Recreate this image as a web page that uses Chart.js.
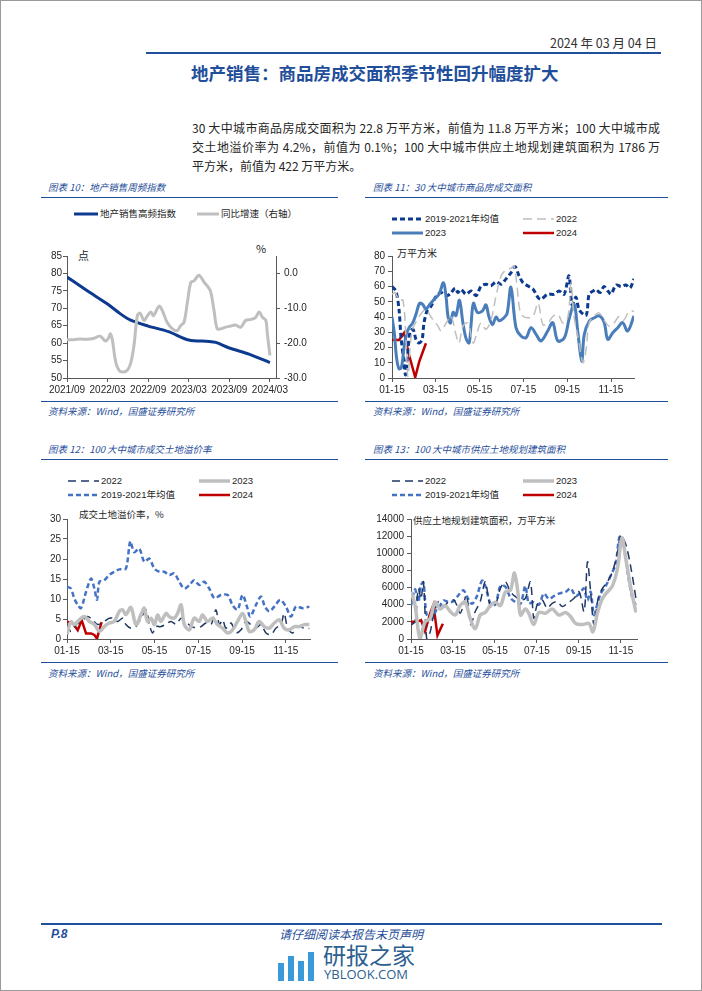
<!DOCTYPE html>
<html>
<head>
<meta charset="utf-8">
<script src="https://cdn.jsdelivr.net/npm/chart.js@4.4.1/dist/chart.umd.min.js"></script>
<style>
  body { margin: 0; background: #fff; }
  #page { position: relative; width: 702px; height: 991px; box-sizing: border-box; border: 1px solid #9a9a9a; overflow: hidden; font-family: "Noto Sans CJK SC", sans-serif; }
  .abs { position: absolute; white-space: nowrap; }
  canvas { position: absolute; }
  .rule { position: absolute; background: #1F4E9A; }
  .ctitle { position: absolute; font-size: 9.5px; font-style: italic; color: #1F4E9A; line-height: 14px; }
  .src { position: absolute; font-size: 9.5px; font-style: italic; color: #1F4E9A; line-height: 14px; }
  .leg { position: absolute; font-size: 9.5px; color: #262626; line-height: 14px; font-family: "Liberation Sans", "Noto Sans CJK SC", sans-serif; }
  .unit { position: absolute; font-size: 9.5px; color: #262626; line-height: 14px; }
  .para { position: absolute; left: 191px; width: 468px; font-size: 12px; color: #262626; line-height: 18px; }
  .para div { text-align: justify; text-align-last: justify; }
  .para div.last { text-align-last: left; }
</style>
</head>
<body>
<div id="page">
  <div class="abs" style="right:44px;top:34px;font-size:12.5px;color:#333;line-height:16px;">2024 年 03 月 04 日</div>
  <div class="rule" style="left:145px;top:51px;width:515px;height:2px;"></div>
  <div class="abs" style="left:190px;top:61px;font-size:17.5px;font-weight:bold;color:#1F4E9A;line-height:22px;">地产销售：商品房成交面积季节性回升幅度扩大</div>

  <div class="para" style="top:118px;">
    <div>30 大中城市商品房成交面积为 22.8 万平方米，前值为 11.8 万平方米；100 大中城市成</div>
    <div style="margin-top:1px;">交土地溢价率为 4.2%，前值为 0.1%；100 大中城市供应土地规划建筑面积为 1786 万</div>
    <div class="last" style="margin-top:1px;">平方米，前值为 422 万平方米。</div>
  </div>

  <div class="ctitle" style="left:47px;top:179px;">图表 10：地产销售周频指数</div>
  <div class="rule" style="left:40px;top:196px;width:297px;height:1px;"></div>
  <div class="ctitle" style="left:372px;top:179px;">图表 11：30 大中城市商品房成交面积</div>
  <div class="rule" style="left:364px;top:196px;width:303px;height:1px;"></div>

  <div class="unit" style="left:77px;top:247px;font-size:11px;">点</div>
  <div class="unit" style="left:255px;top:240px;font-size:11px;">%</div>
  <div class="unit" style="left:396px;top:245px;font-size:10px;">万平方米</div>

  <canvas id="c10" width="270" height="155" style="left:40px;top:245px;"></canvas>
  <canvas id="c11" width="280" height="155" style="left:363px;top:245px;"></canvas>

  <div class="rule" style="left:40px;top:400px;width:297px;height:1px;"></div>
  <div class="rule" style="left:364px;top:400px;width:303px;height:1px;"></div>
  <div class="src" style="left:47px;top:403px;">资料来源：Wind，国盛证券研究所</div>
  <div class="src" style="left:372px;top:403px;">资料来源：Wind，国盛证券研究所</div>

  <div class="ctitle" style="left:47px;top:441px;">图表 12：100 大中城市成交土地溢价率</div>
  <div class="rule" style="left:40px;top:458px;width:297px;height:1px;"></div>
  <div class="ctitle" style="left:372px;top:441px;">图表 13：100 大中城市供应土地规划建筑面积</div>
  <div class="rule" style="left:364px;top:458px;width:303px;height:1px;"></div>

  <div class="unit" style="left:78px;top:506px;">成交土地溢价率，%</div>
  <div class="unit" style="left:412px;top:512px;">供应土地规划建筑面积，万平方米</div>

  <canvas id="c12" width="279" height="153" style="left:40px;top:508px;"></canvas>
  <canvas id="c13" width="283" height="153" style="left:363px;top:508px;"></canvas>

  <div class="rule" style="left:40px;top:661px;width:297px;height:1px;"></div>
  <div class="rule" style="left:364px;top:661px;width:303px;height:1px;"></div>
  <div class="src" style="left:47px;top:665px;">资料来源：Wind，国盛证券研究所</div>
  <div class="src" style="left:372px;top:665px;">资料来源：Wind，国盛证券研究所</div>

  <div class="rule" style="left:40px;top:922px;width:621px;height:2px;"></div>
  <div class="abs" style="left:50px;top:926px;font-size:12px;font-weight:bold;font-style:italic;color:#1F4E9A;font-family:'Liberation Sans',sans-serif;line-height:14px;">P.8</div>
  <div class="abs" style="left:278px;top:925px;font-size:12px;font-style:italic;color:#1F4E9A;line-height:15px;">请仔细阅读本报告末页声明</div>

  <div style="position:absolute;left:277px;top:962px;width:6px;height:18px;background:#3a9ad9;"></div>
  <div style="position:absolute;left:287px;top:955px;width:6px;height:25px;background:#3a9ad9;"></div>
  <div style="position:absolute;left:297px;top:960px;width:6px;height:20px;background:#3a9ad9;"></div>
  <div style="position:absolute;left:307px;top:951px;width:6px;height:29px;background:#3a9ad9;"></div>
  <div class="abs" style="left:322px;top:940px;font-size:23px;color:#2d5f8f;line-height:26px;">研报之家</div>
  <div class="abs" style="left:323px;top:966px;font-size:13px;color:#2d5f8f;line-height:15px;font-family:'Open Sans',sans-serif;">YBLOOK.COM</div>
</div>

<script>
// ---- 图表10：地产销售周频指数 (x = 自2021/09起的月数)
const months10 = ['2021/09', '2022/03', '2022/09', '2023/03', '2023/09', '2024/03'];
const salesIndex = [[0,79],[3,75],[6,71.2],[7.9,68.4],[9.4,66.6],[12,64.9],[15,63.3],[18,60.9],[21,60.5],[22,60.2],[24,58.6],[27,56.8],[30,54.4]];
const salesYoY = [[0,-19],[1,-19],[2,-18.8],[3,-18.9],[4,-18.6],[4.9,-18],[5.7,-19.4],[6.2,-18.3],[6.4,-17.3],[6.7,-19],[7.2,-25.4],[7.7,-27.8],[8.2,-28.3],[8.9,-27.8],[9.4,-25.9],[9.9,-20.7],[10.4,-12.1],[10.8,-11.4],[11.4,-13.5],[11.9,-12.1],[12.4,-11.1],[12.8,-12.1],[13.6,-9.4],[14.1,-10.7],[14.8,-14],[15.6,-15.9],[16.3,-16.4],[16.8,-15],[17.3,-14],[17.8,-8.3],[18.3,-2.6],[18.8,-2.1],[19.5,-0.5],[20.3,-2.6],[20.7,-3.5],[21.2,-5],[21.7,-10.2],[22.2,-15.9],[22.7,-15.9],[23.5,-15.4],[24.2,-15.1],[24.9,-14.8],[25.7,-15.4],[26.4,-13.5],[27.2,-13.2],[27.9,-12.6],[28.4,-11.1],[28.9,-12.6],[29.4,-13.5],[29.6,-16.9],[30,-23.5]];

// ---- 图表11：30大中城市商品房成交面积 (x = 自01-15起的月数)
const days = ['01-15', '03-15', '05-15', '07-15', '09-15', '11-15'];
const area1921 = [[0,60],[0.18,57],[0.32,45],[0.41,27],[0.55,10],[0.62,2],[0.73,18],[0.82,30],[0.96,32],[1.10,25],[1.23,23],[1.37,25],[1.46,36],[1.60,44],[1.78,47],[2.01,53.5],[2.24,56],[2.47,54],[2.65,55],[2.88,59],[3.01,56],[3.15,58],[3.38,55],[3.61,57],[3.84,54],[4.06,60],[4.29,61.5],[4.52,60.5],[4.75,63],[4.98,61.5],[5.21,65],[5.43,69],[5.62,73],[5.80,67],[5.98,62.5],[6.21,60.3],[6.44,58.2],[6.67,52.7],[6.80,51.6],[7.11,54.9],[7.40,54.9],[7.63,57],[7.86,54.9],[8.08,67],[8.22,48],[8.40,53],[8.54,45],[8.86,41],[9.00,55],[9.18,57],[9.32,58],[9.50,56],[9.68,60],[9.86,57],[10.0,55],[10.23,61],[10.46,60],[10.68,61],[10.87,59],[11.05,65]];
const area2022 = [[0,55],[0.14,56],[0.32,51],[0.50,51],[0.64,25],[0.73,1],[0.91,30],[1.23,40],[1.55,45],[1.78,40],[2.10,34],[2.24,31],[2.47,36],[2.69,40.5],[2.92,28.5],[3.06,23],[3.24,34],[3.47,36],[3.70,23],[3.88,29.6],[4.06,36],[4.29,32],[4.52,38],[4.75,53.7],[4.98,66.8],[5.21,71],[5.43,72],[5.57,73.4],[5.71,60],[5.84,44],[5.98,40.5],[6.21,39.5],[6.44,40.5],[6.67,49],[6.89,35],[7.12,36],[7.35,40.5],[7.58,41.6],[7.81,36],[8.04,40.5],[8.17,62.5],[8.31,40.5],[8.54,23],[8.72,10],[8.86,18.6],[9.00,36],[9.22,40.5],[9.45,42.7],[9.68,38],[9.91,34],[10.14,36],[10.37,40.5],[10.59,38],[10.82,43.8],[11.05,43.8]];
const area2023 = [[0,40],[0.11,29],[0.21,13],[0.32,6],[0.43,7],[0.55,20],[0.66,29],[0.78,33],[0.94,36],[1.10,42],[1.26,49],[1.42,48],[1.55,45],[1.71,48],[1.92,51.5],[2.15,55],[2.35,62.5],[2.47,53],[2.56,40],[2.67,36],[2.79,43],[2.92,41],[3.08,51],[3.24,36],[3.38,26],[3.52,23],[3.61,35],[3.72,49],[3.90,43],[4.13,44],[4.29,48],[4.43,40],[4.59,35],[4.75,40],[4.89,37.5],[5.07,39],[5.25,42],[5.43,59.5],[5.66,33],[5.89,27.5],[6.12,26.4],[6.35,33],[6.58,28.6],[6.80,24.3],[7.11,30.8],[7.34,36.3],[7.57,24.3],[7.87,26.4],[8.10,39.5],[8.32,48.3],[8.48,30.8],[8.66,11.1],[8.78,28.6],[9.01,37.4],[9.24,39.5],[9.47,40.7],[9.69,36.3],[9.85,25.4],[10.08,29.7],[10.31,33],[10.53,36.3],[10.76,30.8],[11.05,40.7]];
const area2024 = [[0,25],[0.32,25],[0.55,29.5],[0.78,15],[1.06,0.5],[1.25,11],[1.55,22.8]];

// ---- 图表12：100大中城市成交土地溢价率 (%)
const prem1921 = [[0,13.1],[0.18,12.6],[0.33,10.2],[0.49,8.5],[0.64,7.7],[0.87,11.8],[1.10,15.1],[1.25,12.6],[1.37,9.8],[1.48,14.3],[1.70,14.7],[1.93,16],[2.16,16.8],[2.39,17.4],[2.69,17.6],[2.89,24.4],[3.07,21.7],[3.30,22.6],[3.53,19.3],[3.76,20.1],[3.99,17.6],[4.22,16.8],[4.44,16.8],[4.67,16],[4.90,16.4],[5.13,14.3],[5.36,12.6],[5.59,13.5],[5.81,14.7],[6.04,13.5],[6.27,14.3],[6.50,12.6],[6.73,10.2],[7.03,11],[7.34,11],[7.56,8.5],[7.79,7.3],[8.02,11],[8.22,8.1],[8.37,5.6],[8.63,8.5],[8.86,10.6],[9.04,8.1],[9.24,6.9],[9.47,8.1],[9.74,9.8],[10.0,8.1],[10.23,5.6],[10.46,8.1],[10.76,7.7],[11.07,8.1]];
const prem2022 = [[0,3.6],[0.18,1.9],[0.41,3.6],[0.64,4.4],[0.94,5.6],[1.17,4.8],[1.40,3.6],[1.70,4.4],[1.93,5.2],[2.09,5.2],[2.31,4.4],[2.54,5.2],[2.69,3.6],[2.92,2.7],[3.15,3.1],[3.38,5.2],[3.61,7.3],[3.76,3.6],[3.91,1.5],[4.06,3.1],[4.29,3.1],[4.52,3.7],[4.75,4.4],[4.98,3.7],[5.21,5.2],[5.43,4.4],[5.66,3.1],[5.89,2.9],[6.12,3.1],[6.35,4],[6.58,3.6],[6.80,7.3],[6.96,3.6],[7.11,4.8],[7.26,2.7],[7.49,4],[7.72,1.5],[7.95,2.3],[8.17,4.4],[8.40,3.6],[8.63,2.7],[8.86,3.6],[9.09,1.5],[9.32,1.1],[9.54,2.7],[9.77,3.6],[9.92,6.4],[10.08,2.7],[10.30,1.5],[10.53,3.1],[10.84,2.7],[11.07,2.6]];
const prem2023 = [[0,1.2],[0.18,4.3],[0.33,3.6],[0.49,4.4],[0.79,5.6],[1.02,4.4],[1.25,3.6],[1.48,1.9],[1.70,3.1],[1.93,4],[2.16,4.4],[2.39,6.9],[2.54,7.3],[2.69,6.1],[2.92,7.9],[3.15,3.6],[3.38,6.1],[3.53,7.7],[3.68,4.4],[3.84,5.2],[3.99,3.6],[4.14,6],[4.29,4.4],[4.52,6.4],[4.67,5.6],[4.90,5.2],[5.05,6.4],[5.21,8.5],[5.36,3.6],[5.59,2.3],[5.81,5.2],[6.04,4.4],[6.19,6],[6.42,4.4],[6.65,5.2],[6.88,3.6],[7.11,2.7],[7.34,1.5],[7.56,2.3],[7.79,4.4],[8.02,6.4],[8.17,4.4],[8.33,1.9],[8.55,2.3],[8.78,4.4],[9.01,3.1],[9.24,2.7],[9.47,4],[9.70,4.8],[9.92,2.7],[10.15,2.3],[10.38,3.1],[10.61,3.1],[10.84,3.6],[11.07,3.6]];
const prem2024 = [[0,4.3],[0.26,4],[0.49,2.2],[0.67,4.7],[0.87,1.4],[1.10,1.4],[1.25,1],[1.37,0.1],[1.58,4.2]];

// ---- 图表13：100大中城市供应土地规划建筑面积 (万平方米)
const supply1921 = [[0,3900],[0.19,5800],[0.35,4300],[0.46,6200],[0.59,6600],[0.75,2800],[0.99,2400],[1.23,3500],[1.39,3900],[1.55,4500],[1.79,4300],[2.02,4400],[2.26,5100],[2.50,5700],[2.66,5000],[2.90,4100],[3.14,5000],[3.38,6800],[3.54,6200],[3.78,4200],[4.02,4000],[4.26,6200],[4.50,6100],[4.74,4800],[4.98,4300],[5.22,4100],[5.45,6200],[5.61,4200],[5.85,4300],[6.09,4000],[6.33,5300],[6.57,4700],[6.81,5000],[7.05,5300],[7.37,5500],[7.61,5900],[7.85,5000],[8.09,5500],[8.24,5900],[8.41,4500],[8.56,5500],[8.72,2800],[8.89,4200],[9.04,5300],[9.28,6200],[9.52,7400],[9.76,8800],[9.92,11800],[10.05,12000],[10.21,9700],[10.40,6600],[10.56,4700],[10.72,3900]];
const supply2022 = [[0,1660],[0.19,2000],[0.35,5900],[0.48,4700],[0.59,6670],[0.75,0],[0.91,770],[1.07,2700],[1.31,4360],[1.55,3780],[1.79,4360],[2.03,4550],[2.18,3970],[2.34,3010],[2.50,3970],[2.63,5130],[2.74,3780],[2.85,1660],[3.06,3200],[3.30,4360],[3.54,6670],[3.78,3780],[4.02,3970],[4.26,5900],[4.50,6670],[4.74,5515],[4.98,4940],[5.22,4550],[5.45,4744],[5.69,6670],[5.85,2430],[6.01,3970],[6.25,4550],[6.49,3590],[6.73,4170],[6.97,4360],[7.21,3780],[7.45,4170],[7.77,4744],[8.01,5515],[8.25,3200],[8.41,9000],[8.56,5515],[8.72,1660],[8.92,4744],[9.12,5900],[9.36,6670],[9.60,7830],[9.84,10100],[10.0,12070],[10.24,11000],[10.48,8300],[10.72,4744]];
const supply2023 = [[0,5500],[0.19,4000],[0.43,0],[0.67,2000],[0.91,2400],[1.15,4300],[1.39,3500],[1.63,3900],[1.87,3200],[2.11,2800],[2.34,3900],[2.58,4300],[2.82,2400],[3.06,1200],[3.30,2800],[3.54,3100],[3.78,3900],[4.02,4300],[4.26,3900],[4.50,5500],[4.74,5700],[4.93,7700],[5.09,5500],[5.22,2800],[5.45,3500],[5.61,3000],[5.85,1700],[6.09,3100],[6.41,3000],[6.73,3500],[7.05,2800],[7.37,3100],[7.61,2600],[7.85,1800],[8.17,1700],[8.48,1800],[8.67,850],[8.89,3100],[9.12,4700],[9.36,5500],[9.60,6200],[9.84,8200],[10.05,11800],[10.24,9300],[10.48,5900],[10.72,3100]];
const supply2024 = [[0,2000],[0.29,2000],[0.48,2200],[0.67,900],[0.91,3000],[1.07,4000],[1.26,422],[1.52,1786]];

const AXIS = '#595959';
const TXT = '#262626';
const TICK_FONT = { family: '"Liberation Sans", Arial, sans-serif', size: 10 };
const NAVY = '#0B3A8F';
const STEEL = '#4A7EBB';
const MID = '#4472C4';
const DARK = '#203864';
const GRAY = '#BFBFBF';
const RED = '#C00000';

function series(pts, color, width, dash, tension, axis) {
  return {
    data: pts.map(p => ({ x: p[0], y: p[1] })),
    borderColor: color, borderWidth: width, borderDash: dash || [],
    pointRadius: 0, fill: false, tension: tension,
    yAxisID: axis || 'y', borderCapStyle: 'butt'
  };
}

function xAxis(max, vals, labels) {
  return {
    type: 'linear', min: 0, max: max,
    afterBuildTicks: s => { s.ticks = vals.map(v => ({ value: v })); },
    afterFit: s => { s.height = 23; },
    grid: { drawOnChartArea: false, tickLength: 4, color: AXIS },
    border: { color: AXIS },
    ticks: { autoSkip: false, maxRotation: 0, padding: 2, color: TXT, font: TICK_FONT,
      callback: (v, i) => labels[i] }
  };
}

function yAxis(min, max, vals, width, pad, pos, fmt) {
  return {
    type: 'linear', position: pos || 'left', min: min, max: max,
    afterBuildTicks: s => { s.ticks = vals.map(v => ({ value: v })); },
    afterFit: s => { s.width = width; },
    grid: { drawOnChartArea: false, tickLength: 4, color: AXIS },
    border: { color: AXIS },
    ticks: { padding: pad, color: TXT, font: TICK_FONT, crossAlign: 'near',
      callback: v => fmt ? fmt(v) : String(v) }
  };
}

function makeChart(id, datasets, scales, padRight) {
  new Chart(document.getElementById(id), {
    type: 'line',
    data: { datasets: datasets },
    options: {
      responsive: false, animation: false, devicePixelRatio: 1,
      layout: { padding: { top: 10, right: padRight, left: 0, bottom: 0 } },
      plugins: { legend: { display: false }, tooltip: { enabled: false } },
      scales: scales
    }
  });
}

function legendItem(x, y, len, color, width, dash, text) {
  const page = document.getElementById('page');
  const ns = 'http://www.w3.org/2000/svg';
  const svg = document.createElementNS(ns, 'svg');
  svg.setAttribute('width', len); svg.setAttribute('height', 8);
  svg.style.position = 'absolute'; svg.style.left = x + 'px'; svg.style.top = (y - 4) + 'px';
  const ln = document.createElementNS(ns, 'line');
  ln.setAttribute('x1', 0); ln.setAttribute('y1', 4); ln.setAttribute('x2', len); ln.setAttribute('y2', 4);
  ln.setAttribute('stroke', color); ln.setAttribute('stroke-width', width);
  if (dash) ln.setAttribute('stroke-dasharray', dash.join(' '));
  svg.appendChild(ln);
  page.appendChild(svg);
  const t = document.createElement('div');
  t.className = 'leg'; t.textContent = text;
  t.style.left = (x + len + 2) + 'px'; t.style.top = (y - 7) + 'px';
  page.appendChild(t);
}

// legends
legendItem(73, 213, 24, NAVY, 3, null, '地产销售高频指数');
legendItem(196, 213, 22, GRAY, 3, null, '同比增速（右轴）');

legendItem(391, 218, 31, NAVY, 3, [5, 3], '2019-2021年均值');
legendItem(522, 218, 31, GRAY, 1.5, [9, 5], '2022');
legendItem(391, 232, 31, STEEL, 3, null, '2023');
legendItem(522, 232, 31, RED, 2.5, null, '2024');

legendItem(67, 480, 31, DARK, 1.5, [8, 5], '2022');
legendItem(198, 480, 31, GRAY, 3.5, null, '2023');
legendItem(67, 494, 31, MID, 2.5, [5, 3], '2019-2021年均值');
legendItem(198, 494, 31, RED, 2.5, null, '2024');

legendItem(391, 480, 31, DARK, 1.5, [8, 5], '2022');
legendItem(522, 480, 31, GRAY, 3.5, null, '2023');
legendItem(391, 494, 31, MID, 2.5, [5, 3], '2019-2021年均值');
legendItem(522, 494, 31, RED, 2.5, null, '2024');

// 图表10
makeChart('c10', [
  series(salesYoY, GRAY, 3, null, 0.35, 'y2'),
  series(salesIndex, NAVY, 3, null, 0.3, 'y')
], {
  x: xAxis(30.9, [0, 6, 12, 18, 24, 30], months10),
  y: yAxis(50, 85, [50, 55, 60, 65, 70, 75, 80, 85], 26, 1, 'left'),
  y2: yAxis(-30, 5, [-30, -20, -10, 0], 35, 4, 'right', v => v.toFixed(1))
}, 0);

// 图表11
makeChart('c11', [
  series(area2022, GRAY, 1.5, [9, 5], 0.35),
  series(area2023, STEEL, 3, null, 0.35),
  series(area1921, NAVY, 3, [5, 3], 0.3),
  series(area2024, RED, 2.5, null, 0)
], {
  x: xAxis(11.05, [0, 2, 4, 6, 8, 10], days),
  y: yAxis(0, 80, [0, 10, 20, 30, 40, 50, 60, 70, 80], 28, 3, 'left')
}, 10);

// 图表12
makeChart('c12', [
  series(prem2023, GRAY, 3.5, null, 0.35),
  series(prem2022, DARK, 1.5, [8, 5], 0.3),
  series(prem1921, MID, 2.5, [5, 3], 0.3),
  series(prem2024, RED, 2.5, null, 0)
], {
  x: xAxis(11.1, [0, 2, 4, 6, 8, 10], days),
  y: yAxis(0, 30, [0, 5, 10, 15, 20, 25, 30], 26, 2, 'left')
}, 10);

// 图表13
makeChart('c13', [
  series(supply2023, GRAY, 3.5, null, 0.35),
  series(supply2022, DARK, 1.5, [8, 5], 0.3),
  series(supply1921, MID, 2.5, [5, 3], 0.3),
  series(supply2024, RED, 2.5, null, 0)
], {
  x: xAxis(10.77, [0, 2, 4, 6, 8, 10], days),
  y: yAxis(0, 14000, [0, 2000, 4000, 6000, 8000, 10000, 12000, 14000], 47, 3, 'left')
}, 10);
</script>
</body>
</html>
